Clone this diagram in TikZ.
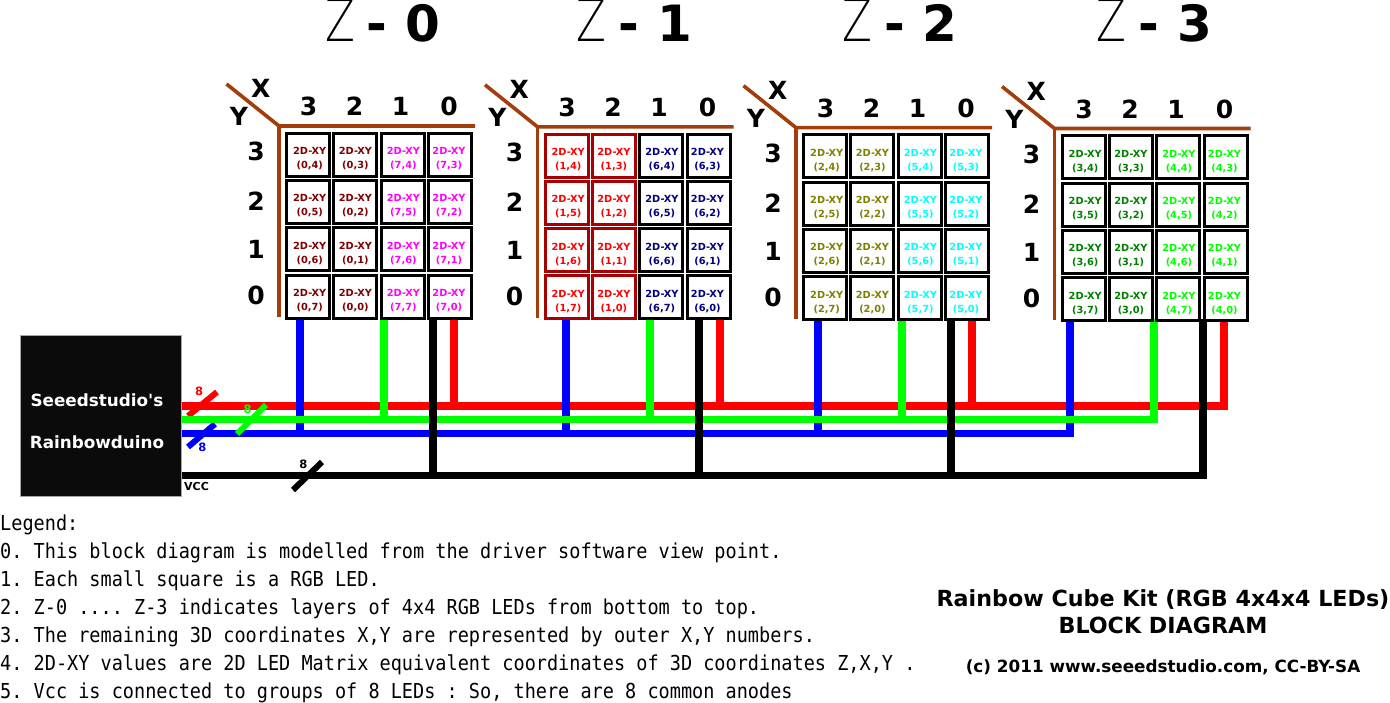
\documentclass[tikz,border=0pt]{standalone}
\usepackage{fontspec}
\usepackage{xcolor}
\setmainfont{DejaVu Sans}
\newfontfamily\legendfont[FakeStretch=0.9]{DejaVu Sans Mono}
\newfontfamily\thinfont{DejaVu Sans ExtraLight}
\newfontfamily\boardfont{DejaVu Sans Bold}
\definecolor{axisbrown}{HTML}{A33E0C}
\definecolor{boardblack}{HTML}{0B0B0B}
\definecolor{ledmaroon}{HTML}{800000}
\definecolor{ledmagenta}{HTML}{FF00FF}
\definecolor{ledred}{HTML}{FF0000}
\definecolor{lednavy}{HTML}{000080}
\definecolor{ledolive}{HTML}{808000}
\definecolor{ledcyan}{HTML}{00FFFF}
\definecolor{ledgreen}{HTML}{008000}
\definecolor{ledlime}{HTML}{00FF00}
\definecolor{edgered}{HTML}{A80000}
\tikzset{
  ledcell/.style={draw,fill=white,line width=3pt,minimum size=43pt,inner sep=0pt},
  ledtext/.style={font=\bfseries\fontsize{9.8}{14}\selectfont,align=center,inner sep=0pt},
  axisline/.style={axisbrown,line width=3.6pt},
  axislabel/.style={font=\bfseries\fontsize{25}{25}\selectfont,anchor=base,inner sep=0pt},
  ztitle/.style={font=\bfseries\fontsize{50}{50}\selectfont,anchor=base,inner sep=0pt},
  wire/.style={line width=7.2pt},
  wiretick/.style={line width=6pt},
  wirecount/.style={font=\bfseries\fontsize{11.5}{11.5}\selectfont,inner sep=0pt},
  boardtext/.style={white,font=\boardfont\fontsize{16.8}{16.8}\selectfont,inner sep=0pt}
}
\begin{document}
\begin{tikzpicture}[x=1pt,y=-1pt]
  \useasboundingbox (0,0) rectangle (1390,703);
  % controller board
  \node[draw=gray!70,fill=boardblack,line width=0.6pt,minimum size=161.5pt,inner sep=0pt] (board) at (100.7,416) {};
  \node[boardtext] (boardtop) at (97,400) {Seeedstudio's};
  \node[boardtext] (boardbot) at (97,442) {Rainbowduino};
  \node[font=\bfseries\fontsize{11}{11}\selectfont,anchor=base west,inner sep=0pt] (vcc) at (184,490) {VCC};
  % bus levels and taps
  \coordinate (redlevel) at (300,406);
  \coordinate (greenlevel) at (300,419.5);
  \coordinate (bluelevel) at (300,433.5);
  \coordinate (blacklevel) at (300,475.5);
  \foreach \z/\bx/\gx/\kx/\rx in {0/300/384/433/454,1/566/650/699/720,2/818/902/951/972,3/1070/1154/1203/1224} {
    \coordinate (bluetap\z) at (\bx,319);
    \coordinate (greentap\z) at (\gx,319);
    \coordinate (blacktap\z) at (\kx,319);
    \coordinate (redtap\z) at (\rx,319);
  }
  % wires
  \draw[wire,red] (board.east |- redlevel) -- (redtap3 |- redlevel) -- (redtap3);
  \foreach \z in {0,1,2} {
    \draw[wire,red] (redtap\z) -- (redtap\z |- redlevel);
  }
  \draw[wiretick,red] (188,416) -- (217,392);
  \draw[wire,blue] (board.east |- bluelevel) -- (bluetap3 |- bluelevel) -- (bluetap3);
  \foreach \z in {0,1,2} {
    \draw[wire,blue] (bluetap\z) -- (bluetap\z |- bluelevel);
  }
  \draw[wiretick,blue] (188,447) -- (215,424);
  \draw[wire,green] (board.east |- greenlevel) -- (greentap3 |- greenlevel) -- (greentap3);
  \foreach \z in {0,1,2} {
    \draw[wire,green] (greentap\z) -- (greentap\z |- greenlevel);
  }
  \draw[wiretick,green] (237,434) -- (266,405);
  \draw[wire,black] (board.east |- blacklevel) -- (blacktap3 |- blacklevel) -- (blacktap3);
  \foreach \z in {0,1,2} {
    \draw[wire,black] (blacktap\z) -- (blacktap\z |- blacklevel);
  }
  \draw[wiretick,black] (293,490) -- (322,462);
  \node[wirecount,red] (countred) at (199,391.5) {8};
  \node[wirecount,blue] (countblue) at (202.3,447.5) {8};
  \node[wirecount,green] (countgreen) at (247.7,409) {8};
  \node[wirecount,black] (countblack) at (303.3,464.5) {8};
  % one layer of the cube
  \foreach \z/\lo/\hi/\loc/\hic/\edge/\zx/\dashx/\numx in {
    0/0/7/ledmaroon/ledmagenta/black/340/377/423,
    1/1/6/ledred/lednavy/edgered/591.7/629/675,
    2/2/5/ledolive/ledcyan/black/857.7/895/940,
    3/3/4/ledgreen/ledlime/black/1111.7/1149/1195} {
    \node[font=\thinfont\fontsize{58}{58}\selectfont,anchor=base,inner sep=0pt] (zletter\z) at (\zx,42) {\scalebox{0.75}[1]{Z}};
    \node[ztitle] (zdash\z) at (\dashx,42) {-};
    \node[ztitle] (znum\z) at (\numx,42) {\z};
    \begin{scope}[shift={({258.5*\z},{0.85*\z})}]
      \coordinate (corner\z) at (279,126);
      \draw[axisline] (226.5,84) -- (corner\z) -- (475,126);
      \draw[axisline] (corner\z) -- (279,317.5);
      \node[axislabel] (xname\z) at (260.7,98) {X};
      \node[axislabel] (yname\z) at (239,126) {Y};
      \foreach \v/\cx in {3/308.5,2/354.5,1/400.5,0/449} {
        \node[axislabel] (xnum\z-\v) at (\cx,116) {\v};
      }
      \foreach \v/\cy in {3/161,2/210.5,1/258.5,0/305} {
        \node[axislabel] (ynum\z-\v) at (256,\cy) {\v};
      }
      \foreach \i/\first/\col/\rim/\tx in {0/\lo/\loc/\edge/1.7,1/\lo/\loc/\edge/0,2/\hi/\hic/black/0.6,3/\hi/\hic/black/-1.2} {
        \foreach \j in {0,...,3} {
          \pgfmathtruncatemacro{\rowv}{3-\j}
          \pgfmathtruncatemacro{\second}{mod(\i,2)==0 ? 7-\rowv : \rowv}
          \node[ledcell,draw=\rim] (cell\z-\i-\j) at ({308+47.4*\i},{154.7+47.3*\j}) {};
          \node[ledtext,text=\col] (led\z-\i-\j) at ([xshift=\tx pt,yshift=-4pt]cell\z-\i-\j) {2D-XY\\(\first,\second)};
        }
      }
    \end{scope}
  }
  % legend
  \node[anchor=north west,inner sep=0pt,align=left,font=\legendfont\frenchspacing\fontsize{20.6}{28}\selectfont] (legend) at (0,515) {Legend:\\
    0. This block diagram is modelled from the driver software view point.\\
    1. Each small square is a RGB LED.\\
    2. Z-0 .... Z-3 indicates layers of 4x4 RGB LEDs from bottom to top.\\
    3. The remaining 3D coordinates X,Y are represented by outer X,Y numbers.\\
    4. 2D-XY values are 2D LED Matrix equivalent coordinates of 3D coordinates Z,X,Y .\\
    5. Vcc is connected to groups of 8 LEDs : So, there are 8 common anodes};
  % kit title
  \node[font=\bfseries\fontsize{22.2}{22.2}\selectfont,anchor=base,inner sep=0pt] (kitname) at (1163,606) {Rainbow Cube Kit (RGB 4x4x4 LEDs)};
  \node[font=\bfseries\fontsize{22.2}{22.2}\selectfont,anchor=base,inner sep=0pt] (kittype) at (1163,633) {BLOCK DIAGRAM};
  \node[font=\bfseries\fontsize{16.8}{16.8}\selectfont,anchor=base,inner sep=0pt] (kitnote) at (1163,672) {(c) 2011 www.seeedstudio.com, CC-BY-SA};
\end{tikzpicture}
\end{document}
